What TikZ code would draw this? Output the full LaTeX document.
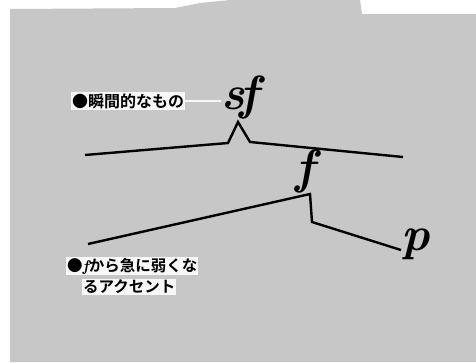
\documentclass[tikz,border=0pt]{standalone}
\usepackage{fontspec}
\newfontfamily\jp[BoldFont=* Bold]{Noto Sans CJK JP}
\begin{document}
\begin{tikzpicture}[x=1pt,y=-1pt,
  dyn/.style={font=\fontsize{48}{48}\selectfont\bfseries\itshape, inner sep=0pt},
  jplabel/.style={font=\fontsize{15.5}{16}\selectfont\jp\bfseries, inner sep=1pt, anchor=west, fill=white!85!black!22},
  contour/.style={line width=2.4pt, line join=miter, line cap=butt}]
\useasboundingbox (0,0) rectangle (476,362);
\fill[white] (0,0) rectangle (476,362);
\fill[black!22] (10,362) -- (10,9) -- (175,8) -- (200,3) -- (230,0) -- (360,0) -- (362,14) -- (476,14) -- (476,362) -- cycle;
% labels
\node[jplabel, font=\fontsize{16}{16}\selectfont\jp\bfseries] (lab1) at (71,101) {●瞬間的なもの};
\node[jplabel] (lab2) at (66,266) {●{\normalfont\bfseries\itshape f}から急に弱くな};
\node[jplabel] (lab3) at (82,287) {るアクセント};
% dynamics
\node[dyn] (sf) at (240,97) {s\kern-5pt f};
\node[dyn] (f) at (305,171) {f};
\node[dyn] (p) at (416,244) {p};
% leader
\draw[white!85!black!22, line width=2.5pt] (lab1.east) -- (sf.west |- lab1.east);
% upper contour
\coordinate (u1) at (85,155);
\coordinate (u2) at (228,143);
\coordinate (u3) at (238,122);
\coordinate (u4) at (250,142);
\coordinate (u5) at (403,157);
\draw[contour] (u1) -- (u2) -- (u3) -- (u4) -- (u5);
% lower contour
\coordinate (l1) at (88,244);
\coordinate (l2) at (310,194);
\coordinate (l3) at (312,222);
\coordinate (l4) at (401,250);
\draw[contour] (l1) -- (l2) -- (l3) -- (l4);
\end{tikzpicture}
\end{document}
